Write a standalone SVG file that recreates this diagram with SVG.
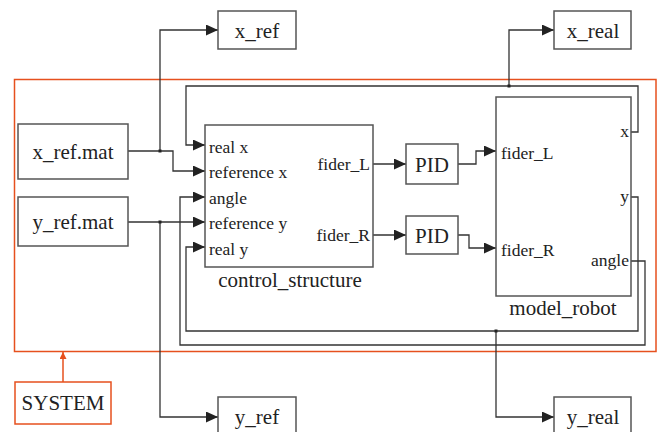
<svg xmlns="http://www.w3.org/2000/svg" width="660" height="432" viewBox="0 0 660 432">
<defs>
<style>
.box{fill:#fff;stroke:#555;stroke-width:1.5}
.t{font-family:"Liberation Serif","Times New Roman",serif;fill:#222}
.big{font-size:21px}
.port{font-size:17.5px}
.w{fill:none;stroke:#333;stroke-width:1.3}
.o{fill:none;stroke:#e6501e;stroke-width:1.5}
</style>
<marker id="arr" markerUnits="userSpaceOnUse" markerWidth="12" markerHeight="11" refX="12" refY="5.5" orient="auto">
<path d="M0,0 L12,5.5 L0,11 z" fill="#222"/>
</marker>
<marker id="oarr" markerUnits="userSpaceOnUse" markerWidth="7" markerHeight="7" refX="7" refY="3.5" orient="auto">
<path d="M0,0 L7,3.5 L0,7 z" fill="#e6501e"/>
</marker>
</defs>
<rect width="660" height="432" fill="#fff"/>
<rect id="system_frame" class="o" x="14.5" y="79.5" width="641.5" height="272"/>

<g id="connectors">
<path class="w" d="M128,151 H173 V171 H205" marker-end="url(#arr)"/>
<path class="w" d="M160,151 V30 H218" marker-end="url(#arr)"/>
<path class="w" d="M128,222 H205" marker-end="url(#arr)"/>
<path class="w" d="M160,222 V417 H218" marker-end="url(#arr)"/>
<path class="w" d="M373,164 H406" marker-end="url(#arr)"/>
<path class="w" d="M373,235 H406" marker-end="url(#arr)"/>
<path class="w" d="M458,164 H476 V151 H496" marker-end="url(#arr)"/>
<path class="w" d="M458,235 H469 V248 H496" marker-end="url(#arr)"/>
<path class="w" d="M631,132 H638 V86 H186 V145 H205" marker-end="url(#arr)"/>
<path class="w" d="M509,86 V30 H554" marker-end="url(#arr)"/>
<path class="w" d="M631,197 H638 V331 H186 V247 H205" marker-end="url(#arr)"/>
<path class="w" d="M496,331 V417 H554" marker-end="url(#arr)"/>
<path class="w" d="M631,261 H645 V345 H180 V197 H205" marker-end="url(#arr)"/>
<path class="o" d="M63,382 V352" marker-end="url(#oarr)"/>
<rect x="158.5" y="149.5" width="3" height="3" fill="#222"/>
<rect x="158.5" y="220.5" width="3" height="3" fill="#222"/>
<rect x="507.5" y="84.5" width="3" height="3" fill="#222"/>
<rect x="494.5" y="329.5" width="3" height="3" fill="#222"/>
</g>

<g id="x_ref_mat"><rect class="box" x="18" y="124" width="110" height="55"/><text class="t big" x="73" y="159" text-anchor="middle">x_ref.mat</text></g>
<g id="y_ref_mat"><rect class="box" x="18" y="197" width="110" height="49"/><text class="t big" x="73" y="229" text-anchor="middle">y_ref.mat</text></g>
<g id="x_ref"><rect class="box" x="218" y="11" width="78" height="38"/><text class="t big" x="257" y="37.5" text-anchor="middle">x_ref</text></g>
<g id="x_real"><rect class="box" x="554" y="11" width="77" height="38"/><text class="t big" x="593" y="37.5" text-anchor="middle">x_real</text></g>
<g id="y_ref"><rect class="box" x="218" y="397" width="78" height="38"/><text class="t big" x="257" y="424" text-anchor="middle">y_ref</text></g>
<g id="y_real"><rect class="box" x="554" y="397" width="77" height="38"/><text class="t big" x="593" y="424" text-anchor="middle">y_real</text></g>
<g id="system"><rect x="15" y="382" width="96" height="42" fill="#fff" stroke="#e6501e" stroke-width="1.5"/><text class="t big" x="63" y="410" text-anchor="middle">SYSTEM</text></g>

<g id="control_structure">
<rect class="box" x="205" y="125" width="168" height="142"/>
<text class="t port" x="209" y="152.5">real x</text>
<text class="t port" x="209" y="178">reference x</text>
<text class="t port" x="209" y="203.5">angle</text>
<text class="t port" x="209" y="229">reference y</text>
<text class="t port" x="209" y="254.5">real y</text>
<text class="t port" x="370" y="170" text-anchor="end">fider_L</text>
<text class="t port" x="370" y="241" text-anchor="end">fider_R</text>
<text class="t big" x="290" y="287" text-anchor="middle">control_structure</text>
</g>
<g id="pid_l"><rect class="box" x="406" y="144" width="52" height="40"/><text class="t big" x="432" y="172" text-anchor="middle">PID</text></g>
<g id="pid_r"><rect class="box" x="406" y="216" width="52" height="38"/><text class="t big" x="432" y="243" text-anchor="middle">PID</text></g>
<g id="model_robot">
<rect class="box" x="496" y="97" width="135" height="199"/>
<text class="t port" x="501" y="158.5">fider_L</text>
<text class="t port" x="501" y="255.5">fider_R</text>
<text class="t port" x="629" y="137" text-anchor="end">x</text>
<text class="t port" x="629" y="202" text-anchor="end">y</text>
<text class="t port" x="629" y="266" text-anchor="end">angle</text>
<text class="t big" x="563" y="315" text-anchor="middle">model_robot</text>
</g>
</svg>
